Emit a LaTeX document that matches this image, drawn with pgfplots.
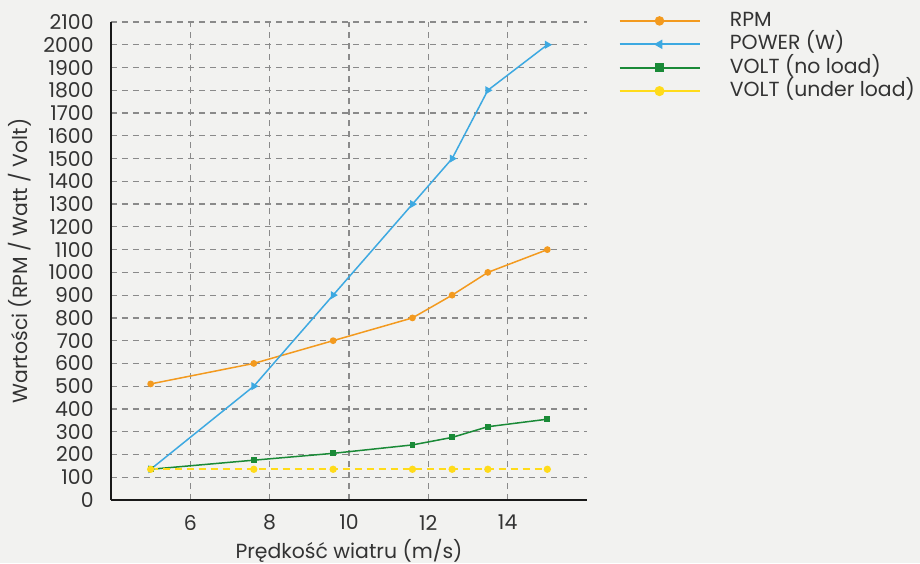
\documentclass[border=0pt]{standalone}
\usepackage{fontspec}
\setmainfont{Poppins}
\usepackage{pgfplots}
\pgfplotsset{compat=1.18}
\definecolor{bg}{HTML}{F2F2F0}
\definecolor{txt}{HTML}{333333}
\definecolor{corange}{HTML}{F39A1E}
\definecolor{cblue}{HTML}{3DA9E1}
\definecolor{cgreen}{HTML}{1A8A37}
\definecolor{cyellow}{HTML}{FFDB1A}
\definecolor{gridc}{HTML}{8A8A8A}
\begin{document}
\begin{tikzpicture}
\fill[bg] (-55.5pt,-31.5pt) rectangle (404.5pt,250pt);
\begin{axis}[
  at={(0,0)}, anchor=south west,
  width=238pt, height=239pt, scale only axis,
  xmin=4, xmax=16, ymin=0, ymax=2100,
  xtick={6,8,...,14}, ytick={0,100,...,2100},
  axis x line=bottom, axis y line=left,
  axis line style={-, line width=1.1pt, draw=black!90},
  major tick length=0pt,
  grid=major,
  major grid style={draw=gridc, line width=0.6pt, dash pattern=on 3pt off 2.5pt},
  font=\fontsize{10.2}{12}\selectfont,
  /pgf/number format/assume math mode=true,
  /pgf/number format/1000 sep={},
  tick label style={text=txt, font=\fontsize{10.2}{12}\selectfont},
  yticklabel style={anchor=east, inner sep=0pt},
  yticklabel shift=8.5pt,
  xticklabel style={anchor=north, inner sep=0pt},
  xticklabel shift=7.3pt,
  xlabel={Prędkość wiatru (m/s)},
  ylabel={Wartości (RPM / Watt / Volt)},
  every axis x label/.style={at={(axis description cs:0.5,-0.1067)}, anchor=center, text=txt},
  every axis y label/.style={at={(axis description cs:-0.191,0.5)}, rotate=90, anchor=center, text=txt},
  legend style={at={(axis description cs:1,1)}, anchor=north west, xshift=15.5pt, yshift=6.6pt,
    draw=none, fill=none, inner sep=0pt, text=txt, font=\fontsize{10.2}{12}\selectfont,
    row sep=0pt,
    nodes={text height=7.3pt, text depth=2pt, inner sep=1.2pt}},
  legend cell align=left,
  legend image code/.code={
    \draw[#1, solid, mark=none, line width=1.1pt] (0pt,0pt) -- (40pt,0pt);
    \draw[#1, solid, mark size=2pt, mark options={rotate=90, solid}] plot coordinates {(20pt,0pt)};
    \path[draw=none, fill=none] (0pt,0pt) -- (54pt,0pt);
  },
  clip=false,
]
\addplot[color=corange, line width=0.75pt, mark=*, mark size=1.3pt] coordinates {
 (5,510) (7.6,600) (9.6,700) (11.6,800) (12.6,900) (13.5,1000) (15,1100)};
\addlegendentry{RPM}
\addplot[color=cblue, line width=0.75pt, mark=triangle*, mark size=1.6pt, mark options={rotate=150}] coordinates {
 (5,135) (7.6,500) (9.6,900) (11.6,1300) (12.6,1500) (13.5,1800) (15,2000)};
\addlegendentry{POWER (W)}
\addplot[color=cgreen, line width=0.75pt, mark=square*, mark size=1.1pt] coordinates {
 (5,135) (7.6,175) (9.6,205) (11.6,242) (12.6,275) (13.5,322) (15,355)};
\addlegendentry{VOLT (no load)}
\addplot[color=cyellow, line width=1pt, dash pattern=on 3.5pt off 2.5pt, mark=*, mark size=1.3pt, mark options={solid}] coordinates {
 (5,135) (7.6,135) (9.6,135) (11.6,135) (12.6,135) (13.5,135) (15,135)};
\addlegendentry{VOLT (under load)}
\end{axis}
\pgfresetboundingbox
\path (-55.5pt,-31.5pt) rectangle (404.5pt,250pt);
\end{tikzpicture}
\end{document}
